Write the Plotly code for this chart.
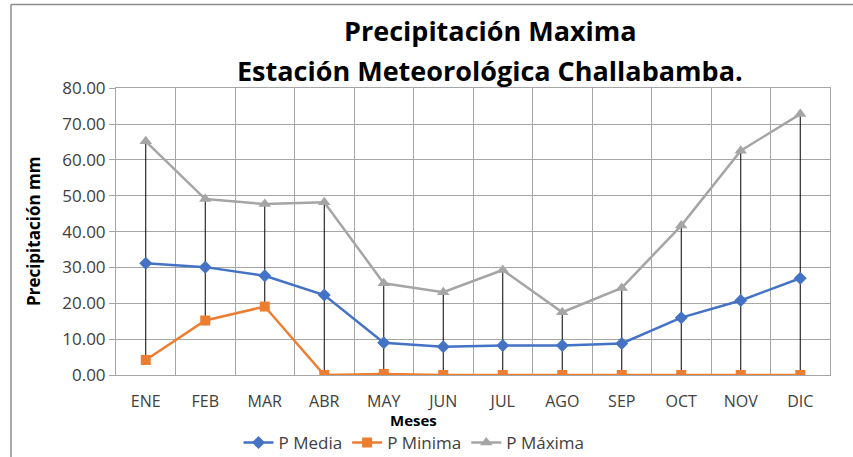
import plotly.graph_objects as go

# Monthly precipitation (mm) at Challabamba station
meses = ["ENE", "FEB", "MAR", "ABR", "MAY", "JUN", "JUL", "AGO", "SEP", "OCT", "NOV", "DIC"]
p_media = [31.2, 30.1, 27.7, 22.3, 9.0, 7.9, 8.2, 8.2, 8.8, 16.0, 20.8, 27.0]
p_minima = [4.2, 15.2, 19.1, 0.0, 0.3, 0.0, 0.0, 0.0, 0.0, 0.0, 0.0, 0.0]
p_maxima = [65.2, 49.1, 47.7, 48.2, 25.6, 23.1, 29.3, 17.5, 24.3, 41.7, 62.6, 72.8]
y_ticks = [0, 10, 20, 30, 40, 50, 60, 70, 80]

W, H = 853, 457
FONT = "Open Sans"
idx = list(range(len(meses)))

fig = go.Figure()

# high-low lines joining minimum and maximum of each month
hl_x, hl_y = [], []
for i, lo, hi in zip(idx, p_minima, p_maxima):
    hl_x += [i, i, None]
    hl_y += [lo, hi, None]
fig.add_trace(go.Scatter(x=hl_x, y=hl_y, mode="lines",
                         line=dict(color="black", width=1),
                         showlegend=False, hoverinfo="skip"))

fig.add_trace(go.Scatter(x=idx, y=p_media, name="P Media", mode="lines+markers",
                         line=dict(color="#4472C4", width=2.5),
                         marker=dict(symbol="diamond", size=10, color="#4472C4")))
fig.add_trace(go.Scatter(x=idx, y=p_minima, name="P Minima", mode="lines+markers",
                         line=dict(color="#ED7D31", width=2.5),
                         marker=dict(symbol="square", size=10, color="#ED7D31")))
fig.add_trace(go.Scatter(x=idx, y=p_maxima, name="P Máxima", mode="lines+markers",
                         line=dict(color="#A5A5A5", width=2.5),
                         marker=dict(symbol="triangle-up", size=11, color="#A5A5A5")))


def label(text, x, y, size, angle=0):
    return dict(text=text, x=x / W, y=1 - y / H, xref="paper", yref="paper",
                xanchor="center", yanchor="middle", showarrow=False,
                textangle=angle, font=dict(size=size, color="black", family=FONT))


grid = "#a6a6a6"
fig.update_layout(
    width=W, height=H,
    margin=dict(l=0, r=0, t=0, b=0, autoexpand=False),
    paper_bgcolor="white", plot_bgcolor="white",
    font=dict(family=FONT, color="#404040"),
    xaxis=dict(
        domain=[116 / W, 830 / W],
        range=[-0.5, len(meses) - 0.5],
        tickmode="array", tickvals=idx, ticktext=meses,
        tickfont=dict(size=16, color="#404040"),
        showgrid=False, zeroline=False,
        showline=True, linecolor=grid, linewidth=1, mirror=True,
        ticks="", ticklabelstandoff=12,
        minor=dict(tickmode="array",
                   tickvals=[i - 0.5 for i in range(len(meses) + 1)],
                   showgrid=True, gridcolor=grid, gridwidth=1, ticks=""),
    ),
    yaxis=dict(
        domain=[1 - 375 / H, 1 - 88.3 / H],
        range=[0, 80],
        tickmode="array", tickvals=y_ticks,
        ticktext=[f"{v:.2f}" for v in y_ticks],
        tickfont=dict(size=17, color="#404040"),
        showgrid=True, gridcolor=grid, gridwidth=1, zeroline=False,
        showline=True, linecolor=grid, linewidth=1, mirror=True,
        ticks="outside", ticklen=6, tickcolor=grid,
    ),
    legend=dict(orientation="h", x=414 / W, xanchor="center",
                y=1 - 443 / H, yanchor="middle",
                font=dict(size=17, color="#404040"),
                bgcolor="rgba(0,0,0,0)", tracegroupgap=0),
    showlegend=True,
    annotations=[
        label("<b>Precipitación Maxima</b>", 490, 31, 27),
        label("<b>Estación Meteorológica Challabamba.</b>", 490, 70, 27),
        label("<b>Meses</b>", 413, 420, 15),
        label("<b>Precipitación mm</b>", 33, 232, 17, angle=-90),
    ],
    shapes=[
        dict(type="line", xref="paper", yref="paper",
             x0=11 / W, x1=1, y0=1 - 4.5 / H, y1=1 - 4.5 / H,
             line=dict(color="#8c8c8c", width=1.5)),
        dict(type="line", xref="paper", yref="paper",
             x0=11 / W, x1=11 / W, y0=0, y1=1 - 4.5 / H,
             line=dict(color="#8c8c8c", width=1.5)),
    ],
)

fig.write_html("out.html")
